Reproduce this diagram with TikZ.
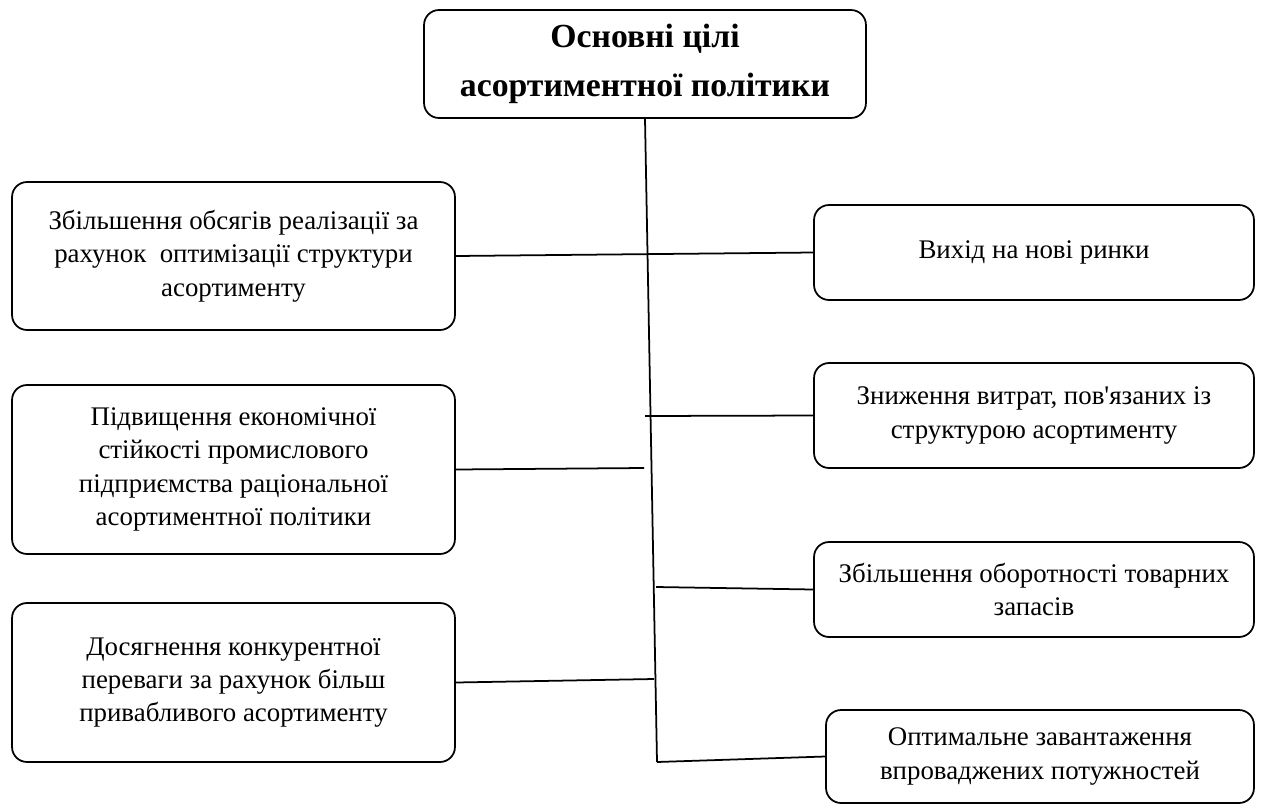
\documentclass[tikz,border=0pt]{standalone}
\usepackage{fontspec}
\setmainfont{Liberation Serif}
\usetikzlibrary{positioning}

\tikzset{
	goal/.style={draw, line width=1pt, rounded corners=0.3cm, align=center, minimum width=8.86cm,
		font=\fontsize{15.3}{19}\selectfont},
	link/.style={line width=1pt}
}

\begin{document}
\begin{tikzpicture}[x=0.02cm, y=-0.02cm]
			\useasboundingbox (0,0) rectangle (1264,805);
			% header
			\node[goal, minimum width=8.84cm, minimum height=2.16cm, font=\fontsize{19.2}{27.5}\selectfont\bfseries] (head) at (645,64)
				{Основні цілі\\асортиментної політики};
			% left column
			\node[goal, minimum height=2.96cm] (left1) at (233.5,256) {Збільшення обсягів реалізації за\\рахунок\ \ оптимізації структури\\асортименту};
			\node[goal, minimum height=3.38cm] (left2) at (233.5,469.5) {Підвищення економічної\\стійкості промислового\\підприємства раціональної\\асортиментної політики};
			\node[goal, minimum height=3.18cm] (left3) at (233.5,682.5) {Досягнення конкурентної\\переваги за рахунок більш\\привабливого асортименту};
			% right column
			\node[goal, minimum width=8.8cm, minimum height=1.9cm] (right1) at (1034,252.5) {Вихід на нові ринки};
			\node[goal, minimum width=8.8cm, minimum height=2.1cm] (right2) at (1034,415.5) {Зниження витрат, пов\textquotesingle язаних із\\структурою асортименту};
			\node[goal, minimum width=8.8cm, minimum height=1.9cm] (right3) at (1034,589.5) {Збільшення оборотності товарних\\запасів};
			\node[goal, minimum width=8.56cm, minimum height=1.86cm] (right4) at (1040,756.5) {Оптимальне завантаження\\впроваджених потужностей};
			% spine
			\coordinate (bottom) at (657,762);
			\coordinate (j2) at (644,468);
			\coordinate (k2) at (645,416);
			\coordinate (k3) at (656,587);
			\coordinate (j3) at (654,679);
			\draw[link] (head.south) -- (bottom);
			\draw[link] (left1.east) -- (right1.west);
			\draw[link] (left2.east) -- (j2);
			\draw[link] (k2) -- (right2.west);
			\draw[link] (k3) -- (right3.west);
			\draw[link] (left3.east) -- (j3);
			\draw[link] (bottom) -- (right4.west);
		\end{tikzpicture}
\end{document}
